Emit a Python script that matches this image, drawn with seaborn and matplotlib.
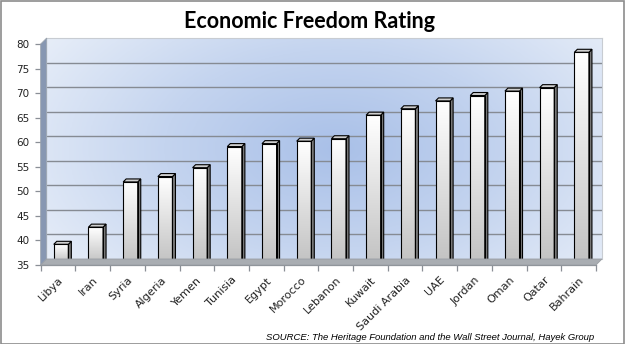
import numpy as np
import pandas as pd
import matplotlib
matplotlib.use("Agg")
import matplotlib.pyplot as plt
import seaborn as sns
from matplotlib.patches import Polygon, Rectangle
from matplotlib.colors import LinearSegmentedColormap

# Economic freedom scores by country
countries = ["Libya", "Iran", "Syria", "Algeria", "Yemen", "Tunisia", "Egypt",
             "Morocco", "Lebanon", "Kuwait", "Saudi Arabia", "UAE", "Jordan",
             "Oman", "Qatar", "Bahrain"]
scores = [38.6, 42.1, 51.3, 52.4, 54.2, 58.5, 59.1, 59.6, 60.1, 64.9, 66.2,
          67.8, 68.9, 69.8, 70.5, 77.7]
y_ticks = [35, 40, 45, 50, 55, 60, 65, 70, 75, 80]
title = "Economic Freedom Rating"
source = "SOURCE: The Heritage Foundation and the Wall Street Journal, Hayek Group"

df = pd.DataFrame({"country": countries, "score": scores})

sns.set_theme(style="white")
plt.rcParams["font.family"] = ["DejaVu Sans"]

W, H = 625, 344
fig = plt.figure(figsize=(W / 100, H / 100), dpi=100)
fig.patch.set_facecolor("white")

DEPTH = 6  # px depth of the floor / walls


def box(x0, y0, x1, y1):
    return [x0 / W, 1 - y1 / H, (x1 - x0) / W, (y1 - y0) / H]


def fpt(x, y):
    return (x / W, 1 - y / H)


FX0, FY0, FX1, FY1 = 40.7, 44, 596, 265   # front plane in pixels
ylim = (35, 80)
xlim = (-0.5, len(countries) - 0.5)

# back wall with gradient and gridlines
ax_bg = fig.add_axes(box(FX0 + DEPTH, FY0 - DEPTH, FX1 + DEPTH, FY1 - DEPTH))
ax_bg.set_xlim(xlim)
ax_bg.set_ylim(ylim)
yy, xx = np.mgrid[0:1:200j, 0:1:400j]
r = np.sqrt(((xx - 0.52) / 0.62) ** 2 + ((yy - 0.5) / 0.9) ** 2)
wall_cmap = LinearSegmentedColormap.from_list("wall", ["#a9c0e8", "#c4d4ef", "#e6edf8"])
ax_bg.imshow(np.clip(r, 0, 1), cmap=wall_cmap, extent=(*xlim, *ylim),
             aspect="auto", origin="lower", zorder=0, vmin=0, vmax=1)
for t in y_ticks[1:-1]:
    ax_bg.axhline(t, color="#868b93", lw=1.0, zorder=1)
for s in ax_bg.spines.values():
    s.set_color("#c8ccd2")
    s.set_linewidth(0.8)
ax_bg.spines["bottom"].set_visible(False)
ax_bg.spines["left"].set_visible(False)
ax_bg.set_xticks([])
ax_bg.set_yticks([])

# left wall and floor
left_wall = Polygon([fpt(FX0, FY0), fpt(FX0 + DEPTH, FY0 - DEPTH),
                     fpt(FX0 + DEPTH, FY1 - DEPTH), fpt(FX0, FY1)],
                    closed=True, transform=fig.transFigure,
                    facecolor="#8797b2", edgecolor="#9aa3ae", lw=0.6, zorder=2)
floor = Polygon([fpt(FX0, FY1), fpt(FX1, FY1), fpt(FX1 + DEPTH, FY1 - DEPTH),
                 fpt(FX0 + DEPTH, FY1 - DEPTH)],
                closed=True, transform=fig.transFigure,
                facecolor="#a9adb2", edgecolor="#9a9ea4", lw=0.6, zorder=2)
fig.add_artist(left_wall)
fig.add_artist(floor)

# bars, half-way into the depth
half = DEPTH / 2
ax = fig.add_axes(box(FX0 + half, FY0 - half, FX1 + half, FY1 - half))
ax.patch.set_alpha(0)
sns.barplot(data=df, x="country", y="score", ax=ax, width=0.42,
            color="#dddddd", edgecolor="black", linewidth=0.8, zorder=3)
ax.set_xlim(xlim)
ax.set_ylim(ylim)
ax.axis("off")

fig.canvas.draw()
to_disp = ax.transData
to_data = ax.transData.inverted()
front_grad = LinearSegmentedColormap.from_list("front", ["#c3c3c3", "#ffffff"])
grad = np.linspace(0, 1, 64).reshape(-1, 1)
bar_d = 3.0  # px depth of each bar

for p in ax.patches:
    x0 = p.get_x()
    w = p.get_width()
    top = p.get_y() + p.get_height()
    bottom = ylim[0]
    p.set_facecolor("none")
    p.set_zorder(5)
    p.set_clip_on(False)
    p.set_y(bottom)
    p.set_height(top - bottom)
    im = ax.imshow(grad, cmap=front_grad, extent=(x0, x0 + w, bottom, top),
                   aspect="auto", origin="lower", zorder=4)
    im.set_clip_path(p)

    def off(x, y):
        dx, dy = to_disp.transform((x, y))
        return tuple(to_data.transform((dx + bar_d, dy + bar_d)))

    side = Polygon([(x0 + w, bottom), (x0 + w, top), off(x0 + w, top),
                    off(x0 + w, bottom)], closed=True, facecolor="#7d7d7d",
                   edgecolor="black", lw=0.8, zorder=4, clip_on=False)
    topf = Polygon([(x0, top), (x0 + w, top), off(x0 + w, top), off(x0, top)],
                   closed=True, facecolor="#cfcfcf", edgecolor="black",
                   lw=0.8, zorder=4, clip_on=False)
    ax.add_patch(side)
    ax.add_patch(topf)

# front axis carrying ticks and labels
ax_f = fig.add_axes(box(FX0, FY0, FX1, FY1))
ax_f.patch.set_alpha(0)
ax_f.set_xlim(xlim)
ax_f.set_ylim(ylim)
for name, s in ax_f.spines.items():
    s.set_visible(name in ("left", "bottom"))
    s.set_color("#8a8f96")
    s.set_linewidth(0.9)
ax_f.set_yticks(y_ticks)
ax_f.set_yticklabels([str(v) for v in y_ticks], fontsize=7.5, color="#222222")
ax_f.set_xticks(range(len(countries)))
ax_f.set_xticklabels(countries, rotation=45, ha="right", rotation_mode="anchor",
                     fontsize=8, color="#222222")
ax_f.set_xticks(np.arange(-0.5, len(countries)), minor=True)
ax_f.tick_params(axis="x", which="major", length=0, pad=7)
ax_f.tick_params(axis="x", which="minor", length=4, color="#8a8f96", width=0.9,
                 bottom=True)
ax_f.tick_params(axis="y", length=4, color="#8a8f96", width=0.9, pad=4, left=True)

fig.text(0.496, 1 - 22 / H, title, ha="center", va="center", fontsize=15.5,
         fontweight="bold", family="Lato", color="black")
fig.text(594 / W, 1 - 337 / H, source, ha="right", va="center", fontsize=6.8,
         style="italic", family="Liberation Sans", color="black")

fig.add_artist(Rectangle((0.5 / W, 0.5 / H), 1 - 1.5 / W, 1 - 1.5 / H,
                         transform=fig.transFigure, fill=False,
                         edgecolor="#8c8c8c", lw=1.2, zorder=10))

fig.savefig("out.png", dpi=100)
